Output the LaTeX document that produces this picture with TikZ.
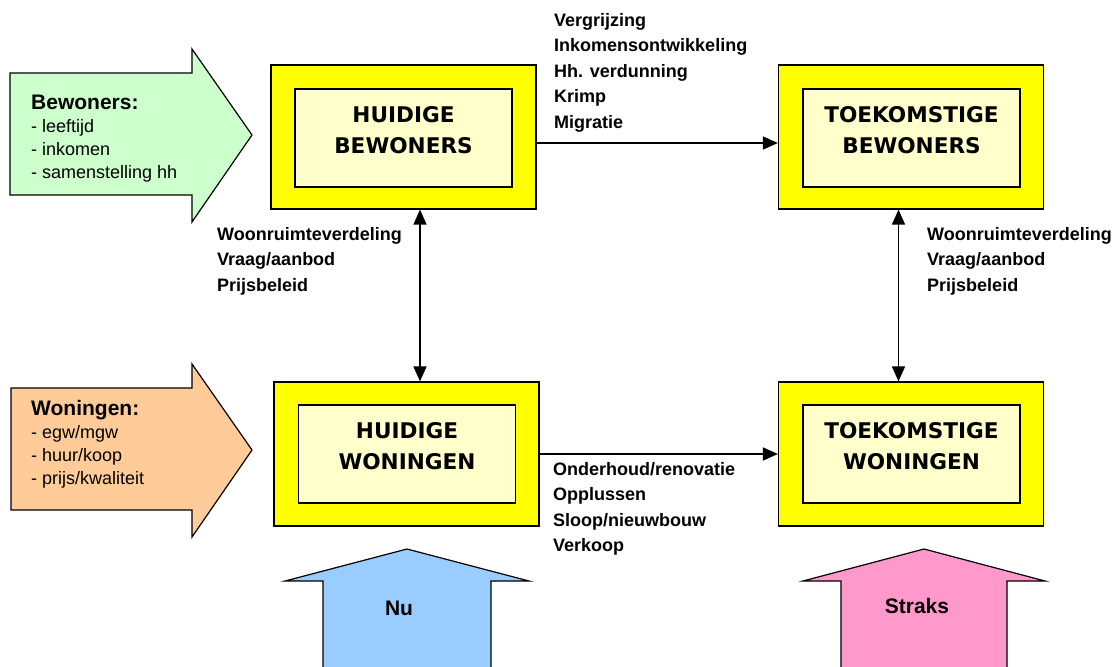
\documentclass[tikz,border=0pt]{standalone}
\usepackage{fontspec}
\setmainfont{Liberation Sans}
\newfontfamily\boxfont{DejaVu Sans}
\usetikzlibrary{arrows.meta, positioning}

\definecolor{geel}{HTML}{FFFF00}
\definecolor{lichtgeel}{HTML}{FFFFCC}
\definecolor{groen}{HTML}{CCFFCC}
\definecolor{oranje}{HTML}{FFCC99}
\definecolor{blauw}{HTML}{99CCFF}
\definecolor{roze}{HTML}{FF99CC}

\begin{document}
\begin{tikzpicture}[x=1pt, y=-1pt, >={Triangle[length=15pt, width=13pt]}]
	\tikzstyle{outerbox} = [draw, line width=1.2pt, fill=geel, minimum width=265pt, minimum height=144pt, inner sep=0pt]
	\tikzstyle{innerbox} = [draw, line width=1.2pt, fill=lichtgeel, minimum width=217pt, minimum height=98pt, inner sep=0pt]
	\tikzstyle{boxlabel} = [align=center, inner sep=0pt, font=\boxfont\bfseries\fontsize{21.6}{31}\selectfont]
	\tikzstyle{notes} = [align=left, anchor=north west, inner sep=0pt, font=\bfseries\fontsize{18}{25.5}\selectfont]
	\tikzstyle{listing} = [align=left, anchor=north west, inner sep=0pt, font=\fontsize{18}{23}\selectfont]
	\tikzstyle{bigarrow} = [draw, line width=1.2pt, line join=miter]

	\path[use as bounding box] (0,0) rectangle (1120,667);
	\clip (0,0) rectangle (1120,667);

	% input arrows
	\filldraw[bigarrow, fill=groen] (10,73) -- (192,73) -- (192,49) -- (252,135) -- (192,222) -- (192,195) -- (10,195) -- cycle;
	\filldraw[bigarrow, fill=oranje] (11,388) -- (192,388) -- (192,364) -- (252,450) -- (192,537) -- (192,510) -- (11,510) -- cycle;
	\node[listing] (bew) at (31,95) {{\bfseries\fontsize{21}{23}\selectfont Bewoners:}\\- leeftijd\\- inkomen\\- samenstelling hh};
	\node[listing] (won) at (31,400) {{\bfseries\fontsize{21}{23}\selectfont Woningen:}\\- egw/mgw\\- huur/koop\\- prijs/kwaliteit};

	% time arrows
	\filldraw[bigarrow, fill=blauw] (323,680) -- (323,581) -- (285,581) -- (407,549) -- (529,581) -- (491,581) -- (491,680) -- cycle;
	\filldraw[bigarrow, fill=roze] (841,680) -- (841,581) -- (803,581) -- (924,549) -- (1045,581) -- (1007,581) -- (1007,680) -- cycle;
	\node[font=\bfseries\fontsize{21}{23}\selectfont] (nu) at (399,608) {Nu};
	\node[font=\bfseries\fontsize{21}{23}\selectfont] (straks) at (917,606) {Straks};

	% boxes
	\node[outerbox] (hb) at (403.5,137) {};
	\node[innerbox] (hbi) at (403.5,138) {};
	\node[boxlabel] at ([yshift=8pt]hbi.center) {HUIDIGE\\BEWONERS};

	\node[outerbox] (tb) at (911,137) {};
	\node[innerbox] (tbi) at (911.5,138) {};
	\node[boxlabel] at ([yshift=8pt]tbi.center) {TOEKOMSTIGE\\BEWONERS};

	\node[outerbox] (hw) at (406.5,454) {};
	\node[innerbox] (hwi) at (407,454) {};
	\node[boxlabel] at ([yshift=8pt]hwi.center) {HUIDIGE\\WONINGEN};

	\node[outerbox] (tw) at (911,454) {};
	\node[innerbox] (twi) at (911.5,454) {};
	\node[boxlabel] at ([yshift=8pt]twi.center) {TOEKOMSTIGE\\WONINGEN};

	% connectors
	\coordinate (ht) at ([yshift=-6pt]hb.east);
	\coordinate (tt) at (ht -| tb.west);
	\coordinate (lt) at ([xshift=16.5pt]hb.south);
	\coordinate (lb) at (lt |- hw.north);
	\coordinate (rt) at ([xshift=-12.5pt]tb.south);
	\coordinate (rb) at (rt |- tw.north);

	\path[line width=1.5pt]
		(ht) edge[->] (tt)
		(hw.east) edge[->] (tw.west)
		(lt) edge[<->] (lb)
		(rt) edge[<->] (rb)
	;

	% labels
	\node[notes] (trends) at (554,13) {Vergrijzing\\Inkomensontwikkeling\\Hh. verdunning\\Krimp\\Migratie};
	\node[notes] (beleidl) at (217,227) {Woonruimteverdeling\\Vraag/aanbod\\Prijsbeleid};
	\node[notes] (beleidr) at (927,227) {Woonruimteverdeling\\Vraag/aanbod\\Prijsbeleid};
	\node[notes] (ingrepen) at (553,462) {Onderhoud/renovatie\\Opplussen\\Sloop/nieuwbouw\\Verkoop};
\end{tikzpicture}
\end{document}
